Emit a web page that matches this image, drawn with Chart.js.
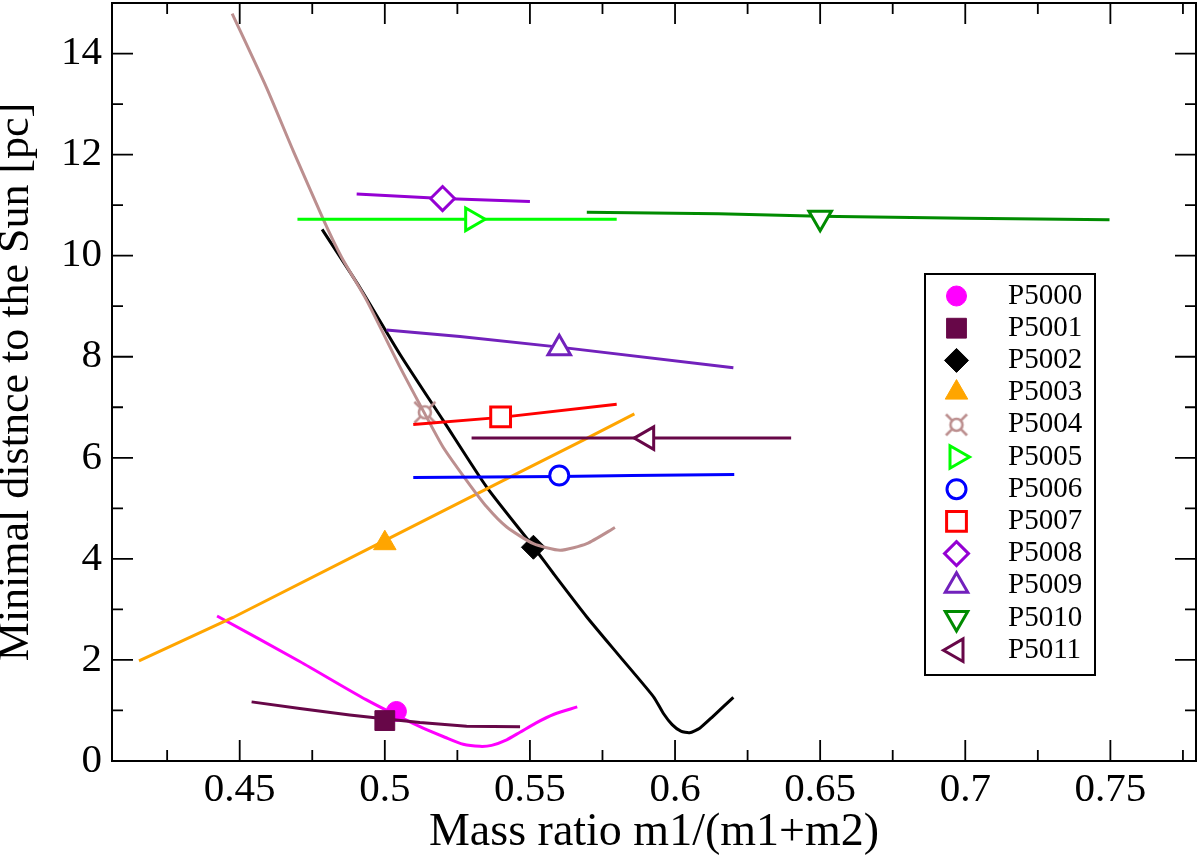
<!DOCTYPE html>
<html>
<head>
<meta charset="utf-8">
<script src="https://cdn.jsdelivr.net/npm/chart.js@4.4.1/dist/chart.umd.min.js"></script>
<style>
html,body{margin:0;padding:0;background:#fff;}
#wrap{position:relative;width:1200px;height:861px;}
</style>
</head>
<body>
<div id="wrap"><canvas id="c"></canvas></div>
<script>
// ---------- data ----------
const seriesNames = ['P5000','P5001','P5002','P5003','P5004','P5005','P5006','P5007','P5008','P5009','P5010','P5011'];

const p5000X = [0.4422,0.4707,0.4937,0.5121,0.5207,0.5270,0.5328,0.5368,0.5420,0.5466,0.5520,0.5581,0.5663];
const p5000Y = [2.87,1.97,1.21,0.68,0.47,0.33,0.29,0.31,0.42,0.57,0.75,0.92,1.07];

const p5001X = [0.4541,0.4707,0.4879,0.5006,0.5121,0.5282,0.5466];
const p5001Y = [1.17,1.04,0.91,0.83,0.76,0.69,0.68];

const p5002X = [0.4784,0.4914,0.5052,0.5201,0.5351,0.5512,0.5581,0.5696,0.5811,0.5926,0.5960,0.5990,0.6020,0.6050,0.6085,0.6130,0.6201];
const p5002Y = [10.52,9.37,8.05,6.74,5.42,4.24,3.71,2.85,2.06,1.27,0.94,0.72,0.59,0.56,0.65,0.88,1.26];

const p5003X = [0.4153,0.4477,0.5006,0.5397,0.5684,0.5860];
const p5003Y = [1.98,2.84,4.38,5.52,6.35,6.87];

const p5004X = [0.4474,0.4592,0.4684,0.4788,0.4851,0.4937,0.5052,0.5138,0.5201,0.5282,0.5351,0.5420,0.5512,0.5604,0.5696,0.5793];
const p5004Y = [14.79,13.33,12.08,10.72,9.97,9.12,7.80,6.87,6.21,5.55,5.03,4.63,4.30,4.17,4.30,4.62];

const p5005X = [0.4699,0.5311,0.5799];
const p5005Y = [10.72,10.72,10.72];

const p5006X = [0.5098,0.5600,0.5850,0.6204];
const p5006Y = [5.61,5.63,5.65,5.67];

const p5007X = [0.5098,0.5400,0.5799];
const p5007Y = [6.66,6.80,7.06];

const p5008X = [0.4903,0.5199,0.5500];
const p5008Y = [11.22,11.13,11.07];

const p5009X = [0.5006,0.5259,0.5601,0.6201];
const p5009Y = [8.53,8.40,8.19,7.78];

const p5010X = [0.5696,0.6150,0.6500,0.7000,0.7497];
const p5010Y = [10.86,10.83,10.78,10.74,10.71];

const p5011X = [0.5299,0.5904,0.6400];
const p5011Y = [6.39,6.39,6.39];

const markerX = [0.504,0.500,0.5512,0.500,0.5138,0.5301,0.5601,0.5399,0.5199,0.5601,0.6500,0.5904];
const markerY = [0.98,0.80,4.23,4.31,6.90,10.72,5.65,6.81,11.13,8.17,10.75,6.39];

const xTicks = [0.45,0.5,0.55,0.6,0.65,0.7,0.75];
const xMinorTicks = [0.425,0.475,0.525,0.575,0.625,0.675,0.725,0.775];
const yTicks = [0,2,4,6,8,10,12,14];
const yMinorTicks = [1,3,5,7,9,11,13];

// ---------- styles ----------
const seriesColors = ['#ff00ff','#670748','#000000','#ffa500','#bc8f8f','#00ff00','#0000ff','#ff0000','#9400d3','#7221bc','#008b00','#670748'];
const markerStyles = ['circle','rect','rectRot','triangle','star','triangle','circle','rect','rectRot','triangle','triangle','triangle'];
const markerRotation = [0,0,0,0,0,90,0,0,0,0,180,270];
const markerFilled = [true,true,true,true,false,false,false,false,false,false,false,false];
const markerRadius = [10,14,12,13,12,13,9.5,14,12,13,13,13];
const lineTension = [0.25,0,0.2,0,0.2,0,0,0,0,0,0,0];

const lineXs = [p5000X,p5001X,p5002X,p5003X,p5004X,p5005X,p5006X,p5007X,p5008X,p5009X,p5010X,p5011X];
const lineYs = [p5000Y,p5001Y,p5002Y,p5003Y,p5004Y,p5005Y,p5006Y,p5007Y,p5008Y,p5009Y,p5010Y,p5011Y];

function makeStarSymbol(color) {
  const c = document.createElement('canvas');
  const s = 26; c.width = s; c.height = s;
  const g = c.getContext('2d');
  g.strokeStyle = color; g.lineWidth = 2.6;
  const m = s / 2;
  g.beginPath(); g.arc(m, m, 6, 0, Math.PI * 2); g.stroke();
  [[1,1],[1,-1],[-1,1],[-1,-1]].forEach(([dx,dy]) => {
    g.beginPath();
    g.moveTo(m + dx * 4.2, m + dy * 4.2);
    g.lineTo(m + dx * 10.5, m + dy * 10.5);
    g.stroke();
  });
  return c;
}

const N = seriesNames.length;
const datasets = [];
for (let i = 0; i < N; i++) {
  const col = seriesColors[i];
  datasets.push({
    label: seriesNames[i] + ' line',
    data: lineXs[i].map((x, k) => ({x: x, y: lineYs[i][k]})),
    showLine: true,
    borderColor: col,
    borderWidth: 3,
    pointRadius: 0,
    pointHoverRadius: 0,
    tension: lineTension[i],
    fill: false,
    order: 2 * (N - i) + 1,
    isMarker: false
  });
  const style = markerStyles[i] === 'star' ? makeStarSymbol(col) : markerStyles[i];
  datasets.push({
    label: seriesNames[i],
    data: [{x: markerX[i], y: markerY[i]}],
    showLine: false,
    pointStyle: style,
    pointRadius: markerRadius[i],
    pointHoverRadius: markerRadius[i],
    pointRotation: markerRotation[i],
    pointBackgroundColor: markerFilled[i] ? col : '#ffffff',
    pointBorderColor: col,
    pointBorderWidth: markerFilled[i] ? 1 : 3,
    order: 2 * (N - i),
    isMarker: true
  });
}

// ---------- plugins ----------
const framePlugin = {
  id: 'frameTicks',
  afterDraw(chart) {
    const {ctx, chartArea: a, scales: {x, y}} = chart;
    ctx.save();
    ctx.strokeStyle = '#000';
    ctx.lineWidth = 2;
    ctx.strokeRect(a.left, a.top, a.right - a.left, a.bottom - a.top);
    ctx.lineWidth = 1.8;
    const majL = 21, minL = 11;
    ctx.beginPath();
    const xt = (v, L) => { const p = x.getPixelForValue(v);
      ctx.moveTo(p, a.bottom); ctx.lineTo(p, a.bottom - L);
      ctx.moveTo(p, a.top); ctx.lineTo(p, a.top + L); };
    const yt = (v, L) => { const p = y.getPixelForValue(v);
      ctx.moveTo(a.left, p); ctx.lineTo(a.left + L, p);
      ctx.moveTo(a.right, p); ctx.lineTo(a.right - L, p); };
    xTicks.forEach(v => xt(v, majL));
    xMinorTicks.forEach(v => xt(v, minL));
    yTicks.forEach(v => yt(v, majL));
    yMinorTicks.forEach(v => yt(v, minL));
    ctx.stroke();
    ctx.restore();
  }
};

const legendPlugin = {
  id: 'boxLegend',
  afterDraw(chart) {
    const ctx = chart.ctx;
    const bx = 925, by = 274, bw = 170, bh = 401;
    const symX = 956.5, txtX = 1008, row0 = 296, rowH = 32.2;
    ctx.save();
    ctx.fillStyle = '#fff';
    ctx.fillRect(bx, by, bw, bh);
    ctx.strokeStyle = '#000';
    ctx.lineWidth = 2;
    ctx.strokeRect(bx, by, bw, bh);
    const markers = chart.data.datasets.filter(d => d.isMarker);
    markers.forEach((d, i) => {
      const yy = row0 + i * rowH;
      ctx.save();
      ctx.fillStyle = d.pointBackgroundColor;
      ctx.strokeStyle = d.pointBorderColor;
      ctx.lineWidth = d.pointBorderWidth;
      Chart.helpers.drawPoint(ctx, {pointStyle: d.pointStyle, rotation: d.pointRotation, radius: d.pointRadius, borderWidth: d.pointBorderWidth}, symX, yy);
      ctx.restore();
      ctx.fillStyle = '#000';
      ctx.font = '29px "Liberation Serif", "Times New Roman", serif';
      ctx.textAlign = 'left';
      ctx.textBaseline = 'middle';
      ctx.fillText(d.label, txtX, yy);
    });
    ctx.restore();
  }
};

Chart.defaults.color = '#000';
Chart.defaults.font.family = '"Liberation Serif", "Times New Roman", serif';

new Chart(document.getElementById('c'), {
  type: 'scatter',
  data: {datasets: datasets},
  options: {
    responsive: true,
    maintainAspectRatio: false,
    animation: false,
    events: [],
    layout: {autoPadding: false, padding: {top: 3, right: 4, left: 0, bottom: 0}},
    plugins: {legend: {display: false}, tooltip: {enabled: false}},
    scales: {
      x: {
        type: 'linear',
        position: 'bottom',
        min: 0.406,
        max: 0.7795,
        afterBuildTicks: s => { s.ticks = xTicks.map(v => ({value: v})); },
        afterFit: s => { s.height = 100; s.paddingLeft = 0; s.paddingRight = 0; },
        grid: {display: false, drawTicks: false},
        border: {display: false},
        ticks: {font: {size: 41}, padding: 5, maxRotation: 0, autoSkip: false,
                callback: v => String(v)},
        title: {display: true, text: 'Mass ratio m1/(m1+m2)',
                font: {size: 46, lineHeight: 0.76}, padding: {top: 0, bottom: 10.5}}
      },
      y: {
        type: 'linear',
        position: 'left',
        min: 0,
        max: 15,
        afterBuildTicks: s => { s.ticks = yTicks.map(v => ({value: v})); },
        afterFit: s => { s.width = 112; s.paddingTop = 0; s.paddingBottom = 0; },
        grid: {display: false, drawTicks: false},
        border: {display: false},
        ticks: {font: {size: 41}, padding: 10, autoSkip: false, callback: v => String(v)},
        title: {display: true, text: 'Minimal distnce to the Sun [pc]',
                font: {size: 44, lineHeight: 0.76}, padding: {top: 0, bottom: 0}}
      }
    }
  },
  plugins: [framePlugin, legendPlugin]
});
</script>
</body>
</html>
